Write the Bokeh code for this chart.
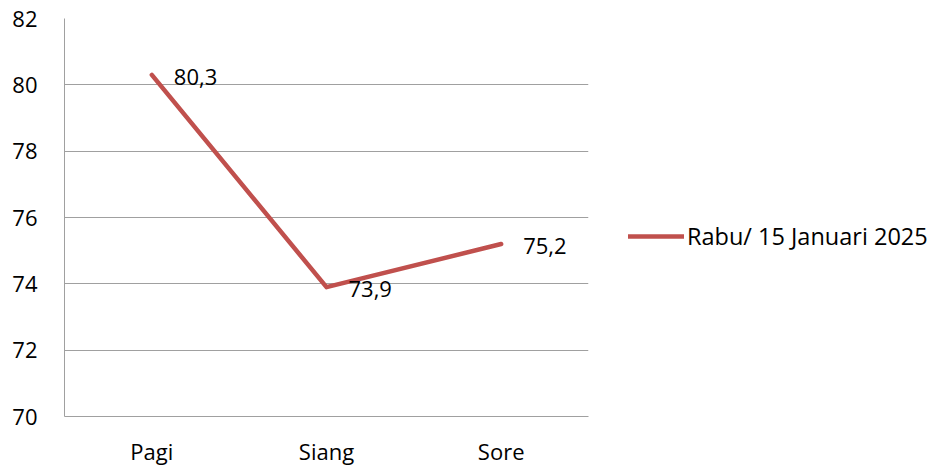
from bokeh.plotting import figure
from bokeh.models import ColumnDataSource, Legend, LegendItem, FactorRange, Range1d, FixedTicker, LabelSet
from bokeh.core.properties import value
from bokeh.embed import file_html
from bokeh.resources import INLINE

categories = ["Pagi", "Siang", "Sore"]
values = [80.3, 73.9, 75.2]
labels = ["80,3", "73,9", "75,2"]
series_name = "Rabu/ 15 Januari 2025"
y_ticks = [70, 72, 74, 76, 78, 80, 82]

FONT = "Open Sans"
LINE_COLOR = "#C0504D"
GRID = "#A0A0A0"

src = ColumnDataSource(dict(x=categories, y=values, lab=labels))

p = figure(frame_width=524, frame_height=398, output_backend="svg", toolbar_location=None,
           x_range=FactorRange(*categories, range_padding=0), y_range=Range1d(70, 82),
           min_border_left=64, min_border_top=18, min_border_bottom=57, min_border_right=0)
p.outline_line_color = None
p.background_fill_color = "white"
p.border_fill_color = "white"

r = p.line("x", "y", source=src, line_color=LINE_COLOR, line_width=4.5,
           line_join="round", line_cap="round")

p.add_layout(LabelSet(x="x", y="y", text="lab", source=src, x_offset=22, y_offset=-2,
                      text_baseline="middle", text_font=value(FONT), text_font_size="22px",
                      text_color="black"))

p.yaxis.ticker = FixedTicker(ticks=y_ticks)
p.ygrid.ticker = FixedTicker(ticks=y_ticks)
p.xgrid.grid_line_color = None
p.ygrid.grid_line_color = GRID
p.ygrid.grid_line_width = 1

for ax in (p.xaxis, p.yaxis):
    ax.axis_line_color = GRID
    ax.axis_line_width = 1
    ax.major_tick_line_color = None
    ax.minor_tick_line_color = None
    ax.major_label_text_font = FONT
    ax.major_label_text_font_size = "22px"
    ax.major_label_text_color = "black"
p.yaxis.major_label_standoff = 21
p.xaxis.major_label_standoff = 13

legend = Legend(items=[LegendItem(label=series_name, renderers=[r])],
                location=(40, 164), border_line_color=None, background_fill_alpha=0,
                label_text_font=FONT, label_text_font_size="23.5px", label_text_color="black",
                glyph_width=56, label_standoff=3, padding=0, margin=0)
p.add_layout(legend, "right")

open("out.html", "w").write(file_html(p, INLINE))
